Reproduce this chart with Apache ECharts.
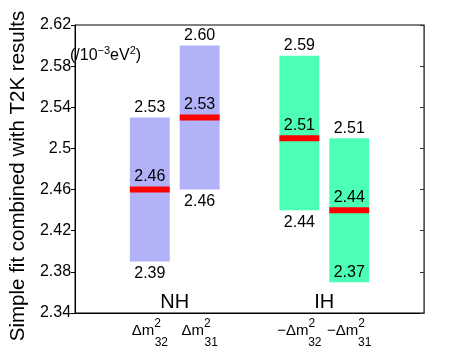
<!DOCTYPE html>
<html>
<head>
<meta charset="utf-8">
<script src="https://cdn.jsdelivr.net/npm/echarts@6/dist/echarts.min.js"></script>
<style>
  html, body { margin: 0; padding: 0; background: #fff; }
  #chart { width: 469px; height: 353px; }
</style>
</head>
<body>
<div id="chart"></div>
<script>
  // values (10^-3 eV^2)
  var xPos = [1.5, 2.5, 4.5, 5.5];
  var lowVals = [2.39, 2.46, 2.44, 2.37];
  var bestVals = [2.46, 2.53, 2.51, 2.44];
  var highVals = [2.53, 2.60, 2.59, 2.51];
  var barColors = ['#b2b2f9', '#b2b2f9', '#4dffb4', '#4dffb4'];
  var xMain = ['Δm', 'Δm', '−Δm', '−Δm'];
  var xSub = ['32', '31', '32', '31'];
  var groupNames = ['NH', 'IH'];
  var groupX = [2, 5];
  var groupY = 2.35;
  var yTicks = [2.34, 2.38, 2.42, 2.46, 2.50, 2.54, 2.58, 2.62];

  var FONT = 'Liberation Sans';
  var lowInside = [false, false, false, true];

  function textWidth(str, size) {
    var c = document.createElement('canvas').getContext('2d');
    c.font = size + 'px "' + FONT + '"';
    return Math.round(c.measureText(str).width);
  }

  var chart = echarts.init(document.getElementById('chart'));

  var rows = xPos.map(function (x, i) {
    return [x, lowVals[i], bestVals[i], highVals[i]];
  });

  function renderBox(params, api) {
    var i = params.dataIndex;
    var x = api.value(0);
    var lo = api.value(1), mid = api.value(2), hi = api.value(3);
    var pTop = api.coord([x, hi]);
    var pBot = api.coord([x, lo]);
    var pMid = api.coord([x, mid]);
    var w = api.size([0.8, 0])[0];
    var left = pTop[0] - w / 2;
    var txt = function (val, y, va) {
      return {
        type: 'text',
        style: {
          text: val.toFixed(2), x: pTop[0], y: y,
          align: 'center', verticalAlign: va,
          fontSize: 16, fontFamily: FONT, fill: '#000'
        }
      };
    };
    return {
      type: 'group',
      children: [
        { type: 'rect', shape: { x: left, y: pTop[1], width: w, height: pBot[1] - pTop[1] },
          style: { fill: barColors[i] } },
        { type: 'rect', shape: { x: left, y: pMid[1] - 3, width: w, height: 6 },
          style: { fill: '#ff0000' } },
        txt(hi, pTop[1] - 2, 'bottom'),
        txt(mid, pMid[1] - 5, 'bottom'),
        lowInside[i] ? txt(lo, pBot[1] - 2, 'bottom') : txt(lo, pBot[1] + 4, 'top')
      ]
    };
  }

  function renderGroupName(params, api) {
    var p = api.coord([api.value(0), api.value(1)]);
    return {
      type: 'text',
      style: {
        text: groupNames[params.dataIndex], x: p[0], y: p[1],
        align: 'center', verticalAlign: 'middle',
        fontSize: 20, fontFamily: FONT, fill: '#000'
      }
    };
  }

  var option = {
    animation: false,
    grid: { left: 64, right: 45, top: 25, bottom: 40, show: true, borderColor: '#000', borderWidth: 1 },
    xAxis: {
      type: 'value', min: 0, max: 7,
      splitLine: { show: false },
      axisLine: { lineStyle: { color: '#000' } },
      axisTick: { show: false },
      axisLabel: {
        customValues: xPos,
        margin: 5,
        formatter: function (v) {
          var i = xPos.indexOf(v);
          if (i < 0) return '';
          return '{m|' + xMain[i] + '}{p|2}\n{s' + (xMain[i].length > 2 ? '1' : '0') + '|}{b|' + xSub[i] + '}';
        },
        rich: {
          m: { fontSize: 15, fontFamily: FONT, color: '#000', lineHeight: 20, align: 'left', verticalAlign: 'bottom' },
          p: { fontSize: 12, fontFamily: FONT, color: '#000', lineHeight: 20, align: 'left', verticalAlign: 'top' },
          s0: { width: textWidth('Δm', 15), lineHeight: 10, align: 'left' },
          s1: { width: textWidth('−Δm', 15), lineHeight: 10, align: 'left' },
          b: { fontSize: 12, fontFamily: FONT, color: '#000', lineHeight: 10, align: 'left' }
        }
      }
    },
    yAxis: [{
      type: 'value', min: 2.34, max: 2.62,
      name: 'Simple fit combined with T2K results',
      nameLocation: 'middle', nameGap: 39,
      nameTextStyle: { fontSize: 20.5, fontFamily: FONT, color: '#000', padding: [0, 14, 0, 0] },
      splitLine: { show: false },
      axisLine: { show: true, lineStyle: { color: '#000' } },
      axisTick: { show: true, length: 4, customValues: yTicks, lineStyle: { color: '#000' } },
      axisLabel: {
        customValues: yTicks, margin: 4,
        fontSize: 16, fontFamily: FONT, color: '#000',
        formatter: function (v) { return String(+v.toFixed(2)); }
      }
    }, {
      type: 'value', min: 2.34, max: 2.62, position: 'right',
      splitLine: { show: false },
      axisLine: { show: true, lineStyle: { color: '#555' } },
      axisTick: { show: true, inside: true, length: 4, customValues: yTicks, lineStyle: { color: '#333' } },
      axisLabel: { show: false }
    }],
    graphic: [{
      type: 'text', left: 70, top: 45,
      style: {
        text: '{a|(/10}{s|−3}{a|eV}{s|2}{a|)}',
        rich: {
          a: { fontSize: 16, fontFamily: FONT, fill: '#000', lineHeight: 19, verticalAlign: 'bottom' },
          s: { fontSize: 11, fontFamily: FONT, fill: '#000', lineHeight: 19, verticalAlign: 'top' }
        }
      }
    }],
    series: [{
      type: 'custom',
      renderItem: renderBox,
      data: rows,
      encode: { x: 0, y: [1, 2, 3] },
      z: 2
    }, {
      type: 'custom',
      renderItem: renderGroupName,
      data: groupX.map(function (x) { return [x, groupY]; }),
      encode: { x: 0, y: 1 },
      z: 3
    }]
  };

  chart.setOption(option);
</script>
</body>
</html>
